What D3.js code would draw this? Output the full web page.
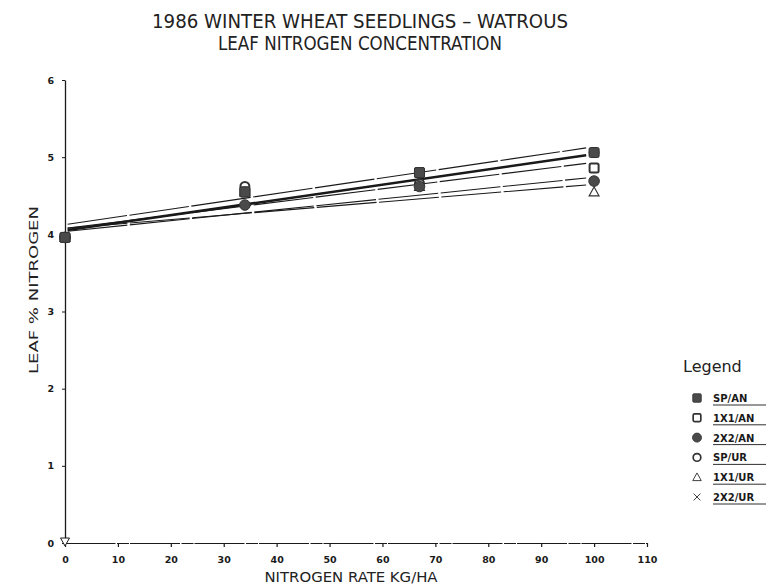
<!DOCTYPE html>
<html><head><meta charset="utf-8">
<script src="https://cdn.jsdelivr.net/npm/d3@7"></script>
<style>body{margin:0;background:#fff}svg{display:block}</style>
</head><body>
<svg id="c" width="767" height="587"></svg>
<script>
const titleLines = ["1986 WINTER WHEAT SEEDLINGS \u2013 WATROUS", "LEAF NITROGEN CONCENTRATION"];
const xTicks = [0,10,20,30,40,50,60,70,80,90,100,110];
const yTicks = [0,1,2,3,4,5,6];
const rates = [0, 34, 67, 100];
const seriesNames = ["SP/AN","1X1/AN","2X2/AN","SP/UR","1X1/UR","2X2/UR"];
const symbols = ["fsquare","osquare","fcircle","ocircle","triangle","cross"];
const vSPAN  = [3.96, 4.55, 4.80, 5.06];
const v1X1AN = [3.96, 4.55, 4.80, 4.86];
const v2X2AN = [3.96, 4.38, 4.62, 4.69];
const vSPUR  = [3.96, 4.62, 4.66, 5.06];
const v1X1UR = [3.96, 4.55, 4.62, 4.55];
const v2X2UR = [3.96, 4.55, 4.62, 4.69];
const seriesValues = [vSPAN, v1X1AN, v2X2AN, vSPUR, v1X1UR, v2X2UR];
// fitted regression lines: value at start and end rate
const fitRates = [0.5, 98.5];
const fitStart = [4.13, 4.06, 4.05, 4.08, 4.04, 4.08];
const fitEnd   = [5.12, 5.03, 5.02, 4.92, 4.73, 4.64];
const fitThick = [false, true, true, false, false, false];
const originMark = [{x:0, y:0}];

const svg = d3.select("#c");
const x = d3.scaleLinear().domain([0,110]).range([65,647]);
const y = d3.scaleLinear().domain([0,6]).range([543,80]);
const ink = "#1a1a1a";

// title
svg.selectAll("text.title").data(titleLines).join("text")
  .attr("x", 360).attr("y",(d,i)=>28+i*22).attr("text-anchor","middle")
  .attr("font-family","DejaVu Sans").attr("font-size",19).attr("fill","#222")
  .attr("textLength",(d,i)=>i?284:416).attr("lengthAdjust","spacingAndGlyphs")
  .text(d=>d);

// axes
const xAxis = d3.axisBottom(x).tickValues(xTicks).tickSize(4).tickSizeOuter(0).tickPadding(9).tickFormat(d3.format("d"));
const gx = svg.append("g").attr("transform",`translate(0,${y(0)})`).call(xAxis);
gx.select(".domain").attr("stroke",ink).attr("stroke-width",1).attr("stroke-dasharray","50,1.5,12,1");
gx.selectAll(".tick line").attr("stroke",ink).attr("stroke-width",1.2);
gx.selectAll(".tick text").attr("font-family","DejaVu Sans").attr("font-weight","bold").attr("font-size",9.5).attr("fill",ink);

const yAxis = d3.axisLeft(y).tickValues(yTicks).tickSize(3).tickSizeOuter(0).tickPadding(8).tickFormat(d3.format("d"));
const gy = svg.append("g").attr("transform",`translate(${x(0)},0)`).call(yAxis);
gy.select(".domain").attr("stroke",ink).attr("stroke-width",1.3);
gy.selectAll(".tick line").attr("stroke",ink).attr("stroke-width",1);
gy.selectAll(".tick text").attr("font-family","DejaVu Sans").attr("font-weight","bold").attr("font-size",9.5).attr("fill",ink);

// origin marker
svg.selectAll("path.orig").data(originMark).join("path")
  .attr("transform",d=>`translate(${x(d.x)},${y(d.y)-1})`)
  .attr("d","M-4.5,-4 L4.5,-4 L0,4 Z").attr("fill","#fff").attr("stroke",ink).attr("stroke-width",1);

// axis titles
svg.append("text").attr("x",351).attr("y",582).attr("text-anchor","middle")
  .attr("font-family","DejaVu Sans").attr("font-size",14).attr("fill","#222")
  .attr("textLength",173).attr("lengthAdjust","spacingAndGlyphs").text("NITROGEN RATE KG/HA");
svg.append("text").attr("transform","translate(38,290) rotate(-90)").attr("text-anchor","middle")
  .attr("font-family","DejaVu Sans").attr("font-size",13).attr("fill","#222")
  .attr("textLength",168).attr("lengthAdjust","spacingAndGlyphs").text("LEAF % NITROGEN");

// regression lines
const fits = fitStart.map((s,i)=>({s, e:fitEnd[i], thick:fitThick[i]}));
svg.selectAll("line.fit").data(fits).join("line")
  .attr("x1",x(fitRates[0])).attr("x2",x(fitRates[1]))
  .attr("y1",d=>y(d.s)).attr("y2",d=>y(d.e))
  .attr("stroke",ink).attr("stroke-width",d=>d.thick?1.8:1.1)
  .attr("stroke-dasharray",d=>d.thick?null:"60,2.5");

// markers
function drawSymbol(g, sym){
  if(sym==="fsquare") g.append("rect").attr("x",-5).attr("y",-5).attr("width",10).attr("height",10).attr("rx",1.5).attr("fill","#4a4a4a").attr("stroke","#333");
  else if(sym==="osquare") g.append("rect").attr("x",-4.5).attr("y",-4.5).attr("width",9).attr("height",9).attr("rx",1.5).attr("fill","#fff").attr("stroke","#333").attr("stroke-width",2);
  else if(sym==="fcircle") g.append("circle").attr("r",5.3).attr("fill","#4a4a4a").attr("stroke","#333");
  else if(sym==="ocircle") g.append("circle").attr("r",4.5).attr("fill","none").attr("stroke","#333").attr("stroke-width",2);
  else if(sym==="triangle") g.append("path").attr("d","M-5,4 L5,4 L0,-5 Z").attr("fill","none").attr("stroke","#333").attr("stroke-width",1.1);
  else g.append("path").attr("d","M-4,-4 L4,4 M-4,4 L4,-4").attr("stroke","#333").attr("stroke-width",1.1);
}
const order = [5,4,3,2,1,0];
order.forEach(si=>{
  seriesValues[si].forEach((v,j)=>{
    const g = svg.append("g").attr("transform",`translate(${x(rates[j])},${y(v)})`);
    drawSymbol(g, symbols[si]);
  });
});

// legend
svg.append("text").attr("x",683).attr("y",372).attr("font-family","DejaVu Sans").attr("font-size",16).attr("fill","#222").text("Legend");
seriesNames.forEach((n,i)=>{
  const yy = 398 + i*19.8;
  const g = svg.append("g").attr("transform",`translate(697,${yy})`);
  drawSymbol(g.append("g").attr("transform","scale(0.85)"), symbols[i]);
  svg.append("text").attr("x",713).attr("y",yy+4).attr("font-family","DejaVu Sans").attr("font-weight","bold")
    .attr("font-size",10).attr("fill",ink).text(n);
  svg.append("line").attr("x1",713).attr("x2",766).attr("y1",yy+7).attr("y2",yy+7).attr("stroke",ink).attr("stroke-width",0.9);
});
</script>
</body></html>
